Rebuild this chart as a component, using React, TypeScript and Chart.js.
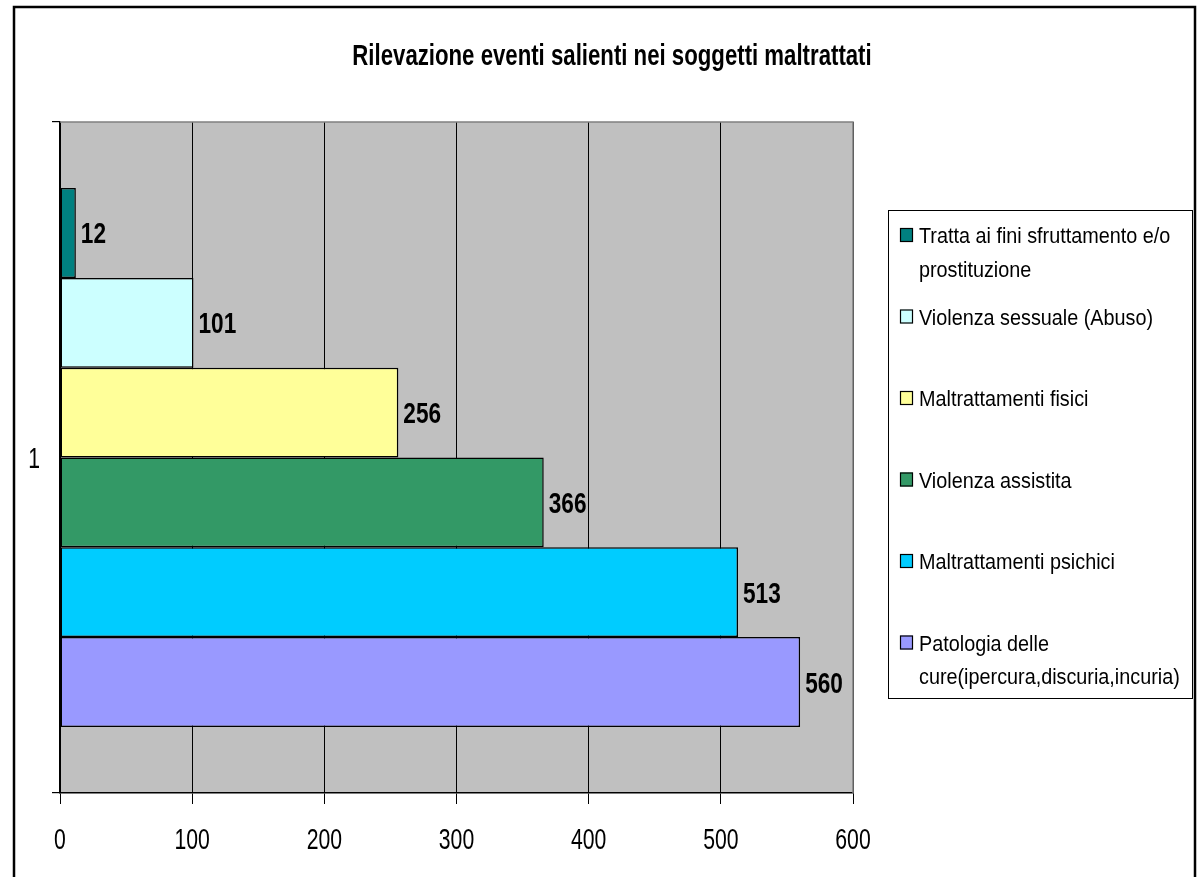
import React, { useEffect, useRef } from 'react';
import { Chart, registerables } from 'chart.js';

Chart.register(...registerables);

const titleText = 'Rilevazione eventi salienti nei soggetti maltrattati';
const categories = ['1'];
const seriesNames = [
  'Tratta ai fini sfruttamento e/o prostituzione',
  'Violenza sessuale (Abuso)',
  'Maltrattamenti fisici',
  'Violenza assistita',
  'Maltrattamenti psichici',
  'Patologia delle cure(ipercura,discuria,incuria)',
];
const legendLines = [
  ['Tratta ai fini sfruttamento e/o', 'prostituzione'],
  ['Violenza sessuale (Abuso)'],
  ['Maltrattamenti fisici'],
  ['Violenza assistita'],
  ['Maltrattamenti psichici'],
  ['Patologia delle', 'cure(ipercura,discuria,incuria)'],
];
const seriesValues = [12, 101, 256, 366, 513, 560];
const seriesColors = ['#008080', '#CCFFFF', '#FFFF99', '#339966', '#00CCFF', '#9999FF'];
const xMin = 0;
const xMax = 600;
const xStep = 100;

const FONT = '"Liberation Sans", Arial, sans-serif';

function drawText(
  ctx: CanvasRenderingContext2D,
  text: string,
  x: number,
  y: number,
  size: number,
  bold: boolean,
  sx: number,
  align: CanvasTextAlign
) {
  ctx.save();
  ctx.font = `${bold ? 'bold ' : ''}${size}px ${FONT}`;
  ctx.textBaseline = 'alphabetic';
  ctx.textAlign = align;
  ctx.fillStyle = '#000';
  ctx.translate(x, y);
  ctx.scale(sx, 1);
  ctx.fillText(text, 0, 0);
  ctx.restore();
}

const decorPlugin = {
  id: 'decor',
  beforeDraw(chart: any) {
    const { ctx, chartArea } = chart;
    ctx.save();
    ctx.fillStyle = '#FFFFFF';
    ctx.fillRect(0, 0, chart.width, chart.height);
    ctx.fillStyle = '#C0C0C0';
    ctx.fillRect(chartArea.left, chartArea.top, chartArea.right - chartArea.left, chartArea.bottom - chartArea.top);
    ctx.restore();
  },
  afterDatasetsDraw(chart: any) {
    const { ctx, chartArea } = chart;
    ctx.save();
    ctx.strokeStyle = '#808080';
    ctx.lineWidth = 1.5;
    ctx.beginPath();
    ctx.moveTo(chartArea.left, chartArea.top);
    ctx.lineTo(chartArea.right, chartArea.top);
    ctx.lineTo(chartArea.right, chartArea.bottom);
    ctx.stroke();
    ctx.restore();
  },
  afterDraw(chart: any) {
    const { ctx, chartArea } = chart;
    const xScale = chart.scales.x;
    const yScale = chart.scales.y;

    // title
    drawText(ctx, titleText, 612, 65, 30, true, 0.74, 'center');

    // x tick labels
    xScale.ticks.forEach((t: any, i: number) => {
      const px = xScale.getPixelForTick(i);
      drawText(ctx, String(t.value), px, chartArea.bottom + 56, 29, false, 0.73, 'center');
    });

    // y tick label
    yScale.ticks.forEach((t: any, i: number) => {
      const py = yScale.getPixelForTick(i);
      drawText(ctx, String(categories[i]), chartArea.left - 20, py + 10.5, 29, false, 0.73, 'right');
    });

    // data labels
    chart.data.datasets.forEach((ds: any, di: number) => {
      const meta = chart.getDatasetMeta(di);
      meta.data.forEach((el: any, j: number) => {
        drawText(ctx, String(ds.data[j]), el.x + 5, el.y + 10.5, 29, true, 0.78, 'left');
      });
    });

    // legend
    ctx.save();
    ctx.strokeStyle = '#000';
    ctx.lineWidth = 1;
    ctx.strokeRect(888.5, 210.5, 304, 488);
    ctx.restore();
    legendLines.forEach((lines, i) => {
      const base = 243 + i * 81.5;
      ctx.save();
      ctx.fillStyle = seriesColors[i];
      ctx.fillRect(900, base - 15, 13, 14);
      ctx.strokeStyle = '#000';
      ctx.lineWidth = 1.2;
      ctx.strokeRect(900.5, base - 14.5, 12, 13);
      ctx.restore();
      lines.forEach((ln, k) => {
        drawText(ctx, ln, 919, base + k * 33.5, 22, false, 0.9, 'left');
      });
    });

    // outer border
    ctx.save();
    ctx.strokeStyle = '#000';
    ctx.lineWidth = 2.5;
    ctx.strokeRect(14, 7, 1181, 900);
    ctx.restore();
  },
};

export default function App() {
  const canvasRef = useRef<HTMLCanvasElement | null>(null);

  useEffect(() => {
    const canvas = canvasRef.current;
    if (!canvas) return;
    const chart = new Chart(canvas, {
      type: 'bar',
      data: {
        labels: categories,
        datasets: seriesNames.map((name, i) => ({
          label: name,
          data: [seriesValues[i]],
          backgroundColor: seriesColors[i],
          borderColor: '#000000',
          borderWidth: 1.5,
          borderSkipped: false,
          barPercentage: 1,
          categoryPercentage: 0.803,
        })),
      },
      options: {
        indexAxis: 'y',
        responsive: false,
        animation: false,
        events: [],
        layout: { padding: { top: 122, left: 0, right: 346, bottom: 0 } },
        plugins: {
          legend: { display: false },
          title: { display: false },
          tooltip: { enabled: false },
        },
        scales: {
          x: {
            type: 'linear',
            min: xMin,
            max: xMax,
            ticks: { stepSize: xStep, display: false },
            grid: { color: '#000000', lineWidth: 1, tickLength: 11, drawTicks: true },
            border: { color: '#000000', width: 1.5 },
            afterFit: (scale: any) => {
              scale.height = 84;
            },
          },
          y: {
            type: 'category',
            ticks: { display: false },
            grid: { offset: true, drawOnChartArea: false, tickLength: 8, color: '#000000', lineWidth: 1.2 },
            border: { color: '#000000', width: 1.5 },
            afterFit: (scale: any) => {
              scale.width = 60;
            },
          },
        },
      },
      plugins: [decorPlugin],
    } as any);
    return () => chart.destroy();
  }, []);

  return (
    <div style={{ position: 'absolute', left: 0, top: 0, width: 1199, height: 877 }}>
      <canvas ref={canvasRef} width={1199} height={877} style={{ display: 'block' }} />
    </div>
  );
}
